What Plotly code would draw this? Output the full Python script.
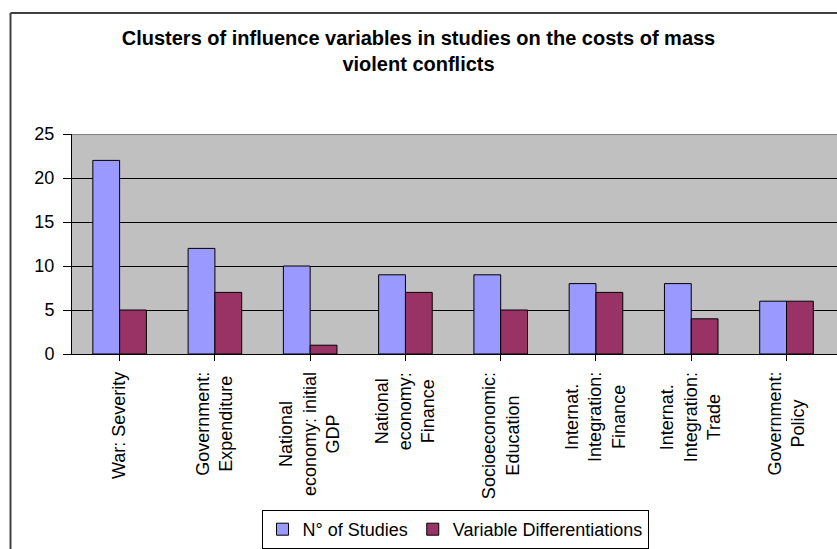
import plotly.graph_objects as go

categories = ["War: Severity", "Government:<br>Expenditure", "National<br>economy: initial<br>GDP",
              "National<br>economy:<br>Finance", "Socioeconomic:<br>Education",
              "Internat.<br>Integration:<br>Finance", "Internat.<br>Integration:<br>Trade",
              "Government:<br>Policy"]
n_studies = [22, 12, 10, 9, 9, 8, 8, 6]
var_diff = [5, 7, 1, 7, 5, 7, 4, 6]
series_names = ["N° of Studies", "Variable Differentiations"]
y_ticks = [0, 5, 10, 15, 20, 25]

W, H = 837, 549
ML, MR, MT, MB = 72, 0, 134, 194
PW = W - ML - MR
PH = H - MT - MB

def px_x(px):
    return (px - ML) / PW

def px_y(py):
    return (H - MB - py) / PH

FONT = "Liberation Sans, Arial, sans-serif"
xs = list(range(len(categories)))

fig = go.Figure()
fig.add_trace(go.Bar(x=xs, y=n_studies, name=series_names[0],
                     marker=dict(color="#9999FF", line=dict(color="black", width=1))))
fig.add_trace(go.Bar(x=xs, y=var_diff, name=series_names[1],
                     marker=dict(color="#993366", line=dict(color="black", width=1))))

annotations = []
for i, c in enumerate(categories):
    annotations.append(dict(x=i, xref="x", y=px_y(371), yref="paper", text=c,
                            showarrow=False, textangle=-90, align="center",
                            xanchor="center", yanchor="top",
                            font=dict(family=FONT, size=18, color="black")))

shapes = [
    dict(type="line", xref="paper", yref="y", x0=0, x1=1.01, y0=25, y1=25,
         line=dict(color="#808080", width=2)),
    dict(type="line", xref="paper", yref="paper", x0=px_x(10.5), x1=px_x(845),
         y0=px_y(12.5), y1=px_y(12.5), line=dict(color="#404040", width=2)),
    dict(type="line", xref="paper", yref="paper", x0=px_x(10.5), x1=px_x(10.5),
         y0=px_y(12.5), y1=px_y(560), line=dict(color="#404040", width=2)),
]

fig.update_layout(
    template="none",
    width=W, height=H,
    margin=dict(l=ML, r=MR, t=MT, b=MB),
    paper_bgcolor="white", plot_bgcolor="#C0C0C0",
    font=dict(family=FONT, size=18, color="black"),
    title=dict(text="Clusters of influence variables in studies on the costs of mass<br>violent conflicts",
               x=0.5, xanchor="center", y=(H - 45) / H, yanchor="top",
               font=dict(family=FONT, size=20, color="black", weight="bold")),
    barmode="group", bargap=0.4375, bargroupgap=0,
    xaxis=dict(range=[-0.5, 7.53], tickmode="array", tickvals=xs, showticklabels=False,
               ticks="outside", tickson="boundaries", ticklen=6, tickcolor="black",
               showline=True, linecolor="black", linewidth=1, showgrid=False, zeroline=False,
               automargin=False),
    yaxis=dict(range=[0, 25], tickmode="array", tickvals=y_ticks,
               ticktext=[str(v) for v in y_ticks], ticks="outside", ticklen=8,
               tickcolor="black", ticklabelstandoff=5,
               showline=True, linecolor="black", linewidth=1,
               showgrid=True, gridcolor="black", gridwidth=1, zeroline=False,
               automargin=False,
               tickfont=dict(family=FONT, size=18, color="black")),
    legend=dict(orientation="h", x=px_x(455), xanchor="center", y=px_y(511), yanchor="top",
                bordercolor="black", borderwidth=1, bgcolor="white",
                font=dict(family=FONT, size=18, color="black"), itemwidth=30,
                traceorder="normal"),
    annotations=annotations, shapes=shapes,
)

fig.write_html("out.html", config={"displayModeBar": False},
               post_script="document.body.style.margin='0';")
